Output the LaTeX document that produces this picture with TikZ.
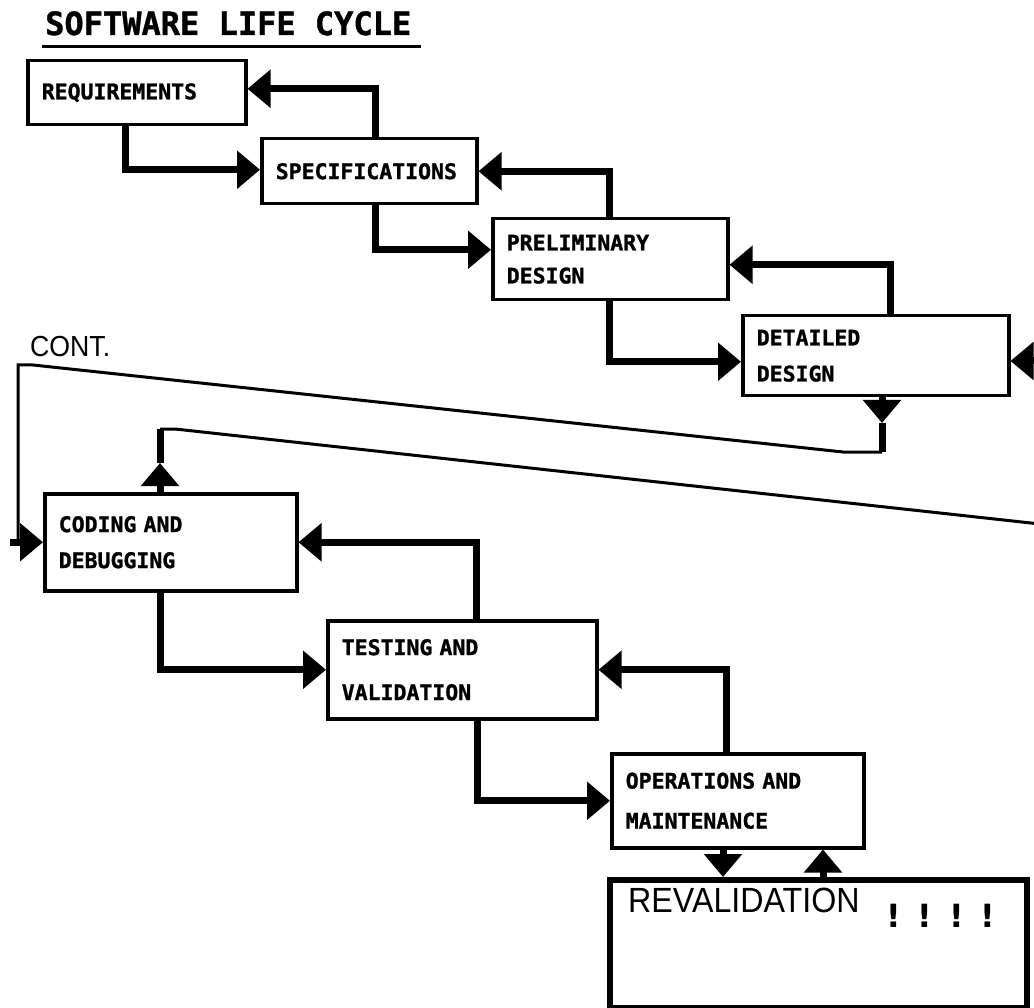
\documentclass[tikz,border=0pt]{standalone}
\usepackage{fontspec}
\newfontfamily\chunkyfont{DejaVu Sans Mono}[FakeBold=1.2]
\newfontfamily\markfont{DejaVu Sans}
\newfontfamily\plainfont{Liberation Sans}[FakeStretch=0.92]
\usetikzlibrary{arrows.meta, calc}

\begin{document}
\begin{tikzpicture}[x=1pt, y=-1pt,
	stage/.style={draw, line width=3.5pt, anchor=north west, align=left, inner xsep=14pt, inner ysep=0pt,
		font=\chunkyfont\bfseries\fontsize{21.5}{36}\selectfont},
	flow/.style={line width=7pt, -{Triangle[length=23pt, width=37pt]}},
	heavy/.style={line width=7pt},
	trace/.style={line width=3pt}]
	\useasboundingbox (0,0) rectangle (1034,1008);
	\clip (0,0) rectangle (1034,1008);
	\fill[white] (0,0) rectangle (1034,1008);

	% heading
	\node[anchor=base west, inner sep=0pt, font=\chunkyfont\bfseries\fontsize{32}{32}\selectfont] (title) at (45,35) {SOFTWARE LIFE CYCLE};
	\draw[line width=3pt] ([xshift=-3pt, yshift=-12pt]title.base west) -- ([xshift=10pt, yshift=-12pt]title.base east);

	% stages
	\node[stage, minimum width=218pt, minimum height=64pt, text width=190pt] (req) at (26,59) {REQUIREMENTS};
	\node[stage, minimum width=215pt, minimum height=65pt, text width=187pt] (spec) at (260,137) {SPECIFICATIONS};
	\node[stage, minimum width=235pt, minimum height=81pt, text width=207pt] (prelim) at (491,217) {PRELIMINARY\\[-3pt]DESIGN};
	\node[stage, minimum width=266pt, minimum height=80pt, text width=238pt] (detailed) at (741,314) {DETAILED\\DESIGN};
	\node[stage, minimum width=252pt, minimum height=97pt, text width=224pt] (coding) at (43,492) {CODING AND\\DEBUGGING};
	\node[stage, minimum width=269pt, minimum height=98pt, text width=241pt] (testing) at (326,619) {TESTING AND\\[9pt]VALIDATION};
	\node[stage, minimum width=252pt, minimum height=94pt, text width=224pt] (ops) at (610,752) {OPERATIONS AND\\[4pt]MAINTENANCE};
	\node[draw, line width=5.5pt, anchor=north west, minimum width=417pt, minimum height=128pt] (reval) at (607,877) {};
	\node[anchor=base west, inner sep=0pt, font=\plainfont\fontsize{35}{35}\selectfont] (revaltext) at ($(reval.north west)+(21,35)$) {REVALIDATION};
	\node[anchor=base west, inner sep=0pt, font=\markfont\bfseries\fontsize{32}{32}\selectfont] (bangs) at ($(reval.north west)+(279,50)$) {!\hspace{17pt}!\hspace{17pt}!\hspace{17pt}!};
	\node[anchor=base west, inner sep=0pt, font=\plainfont\fontsize{29}{29}\selectfont] (cont) at (30,357) {CONT.};

	% forward and back steps
	\draw[flow] ($(req.south west)+(99,0)$) |- ($(spec.west)+(0,-1.5)$);
	\draw[flow] ($(spec.north west)+(115,0)$) |- ($(req.east)+(0,-4)$);
	\draw[flow] ($(spec.south west)+(115,0)$) |- ($(prelim.west)+(0,-9.5)$);
	\draw[flow] ($(prelim.north west)+(118,0)$) |- (spec.east);
	\draw[flow] ($(prelim.south west)+(118,0)$) |- ($(detailed.west)+(0,6)$);
	\draw[flow] ($(detailed.north west)+(149,0)$) |- ($(prelim.east)+(0,5.5)$);
	\draw[flow] ($(coding.south west)+(117,0)$) |- (testing.west);
	\draw[flow] ($(testing.north west)+(150,0)$) |- (coding.east);
	\draw[flow] ($(testing.south west)+(151,0)$) |- (ops.west);
	\draw[flow] ($(ops.north west)+(116,0)$) |- (testing.east);
	\draw[flow] ($(ops.south west)+(113,0)$) -- ($(reval.north west)+(116,0)$);
	\draw[flow] ($(reval.north west)+(216,0)$) -- ($(ops.south west)+(213,0)$);

	% continuation between the two rows
	\coordinate (drop) at (882,423);
	\coordinate (dcorner) at (882,452);
	\coordinate (rise) at (160,463);
	\coordinate (ccorner) at (160,429);
	\coordinate (offright) at (1040,524);
	\coordinate (offin) at (1040,361);
	\draw[flow] (detailed.south -| drop) -- (drop);
	\draw[heavy] (drop) -- (dcorner);
	\draw[trace] (dcorner) -- ++(-39,0) -- (33,365) -- (18,365) |- ($(coding.west)+(-20,0)$);
	\draw[flow] ($(coding.west)+(-33,0)$) -- (coding.west);
	\draw[flow] (coding.north -| rise) -- (rise);
	\draw[heavy] (rise) -- (ccorner);
	\draw[trace] (ccorner) -- ++(15,0) -- (offright);
	\draw[flow] (offin) -- (offin -| detailed.east);
\end{tikzpicture}
\end{document}
